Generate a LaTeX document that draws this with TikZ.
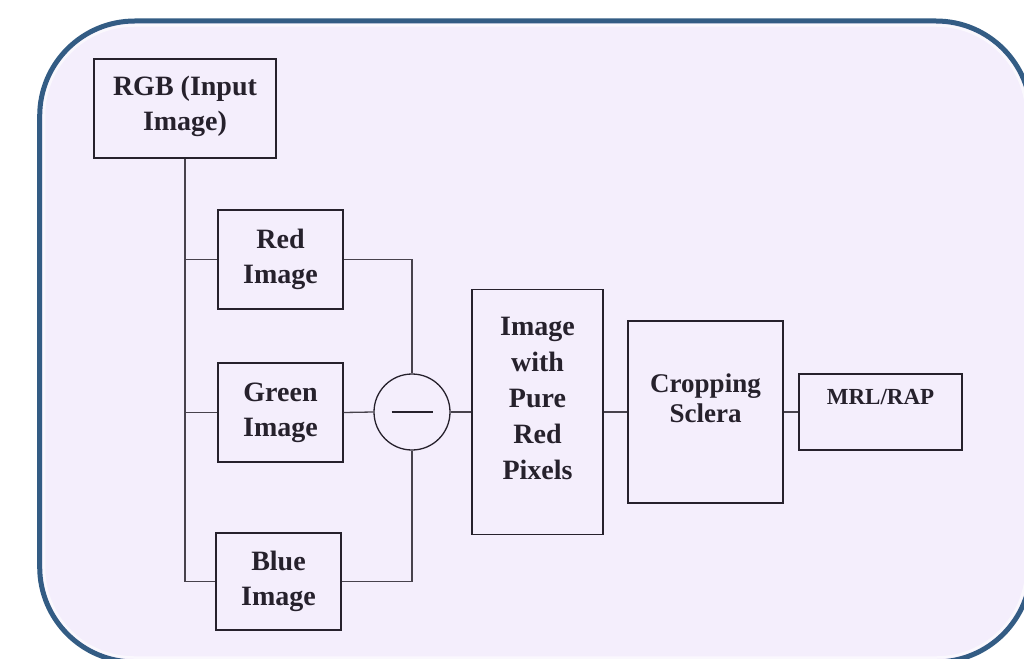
\documentclass[tikz,border=0pt]{standalone}
\usepackage{fontspec}
\setmainfont{Liberation Serif}
\definecolor{panelfill}{HTML}{F4EEFC}
\definecolor{panelrim}{HTML}{335C84}
\definecolor{ink}{HTML}{26212C}

\begin{document}
\begin{tikzpicture}[
  x=1pt, y=-1pt,
  % the panel behind everything: lavender with a dark blue rim
  panel/.style={draw=panelrim, line width=5pt, fill=panelfill, rounded corners=95pt},
  box/.style={draw=ink, line width=1.3pt, text=ink, align=center, inner sep=4pt,
              font=\bfseries\fontsize{28}{35}\selectfont},
  link/.style={draw=ink!85, line width=1.3pt}
]
\useasboundingbox (0,0) rectangle (1024,658);
\begin{scope}
  \clip (0,0) rectangle (1024,658);
  \draw[panel] (39.7,21) rectangle (1031,662);
  \draw[white, line width=2.5pt, opacity=0.6, rounded corners=90pt] (44,25.5) rectangle (1026.5,657.5);
\end{scope}

\node[box, minimum width=182pt, minimum height=99pt] (rgb) at (185,108.5) {RGB (Input\\Image)\\[-24pt]\mbox{}};
\node[box, minimum width=125pt, minimum height=99pt] (red) at (280.5,259.5) {Red\\Image};
\node[box, minimum width=125pt, minimum height=99pt] (green) at (280.5,412.5) {Green\\Image};
\node[box, minimum width=125pt, minimum height=97pt] (blue) at (278.5,581.5) {Blue\\Image};
\node[circle, draw=ink, line width=1.3pt, minimum size=76pt, inner sep=0pt] (minus) at (412,412) {\color{ink}\rule[-0.75pt]{41pt}{1.5pt}};
\node[box, minimum width=131pt, minimum height=245pt, font=\bfseries\fontsize{28}{36}\selectfont]
  (pure) at (537.5,412) {Image\\with\\Pure\\Red\\Pixels\\[-9pt]\mbox{}};
\node[box, minimum width=155pt, minimum height=182pt, font=\bfseries\fontsize{27}{30}\selectfont]
  (crop) at (705.5,412) {Cropping\\Sclera\\[-2pt]\mbox{}};
\node[box, minimum width=163pt, minimum height=76pt, font=\bfseries\fontsize{23}{30}\selectfont]
  (mrl) at (880.5,412) {MRL/RAP\\\mbox{}};

% split of the input into three channels
\draw[link] (rgb.south) |- (blue.west);
\draw[link] (rgb.south |- red.west) -- (red.west);
\draw[link] (rgb.south |- green.west) -- (green.west);

% channels into the subtraction
\draw[link] (red.east) -| (minus.north);
\draw[link] (green.east) -- (minus.west);
\draw[link] (blue.east) -| (minus.south);

\foreach \a/\b in {minus/pure, pure/crop, crop/mrl}
  \draw[link] (\a) -- (\b);
\end{tikzpicture}
\end{document}
